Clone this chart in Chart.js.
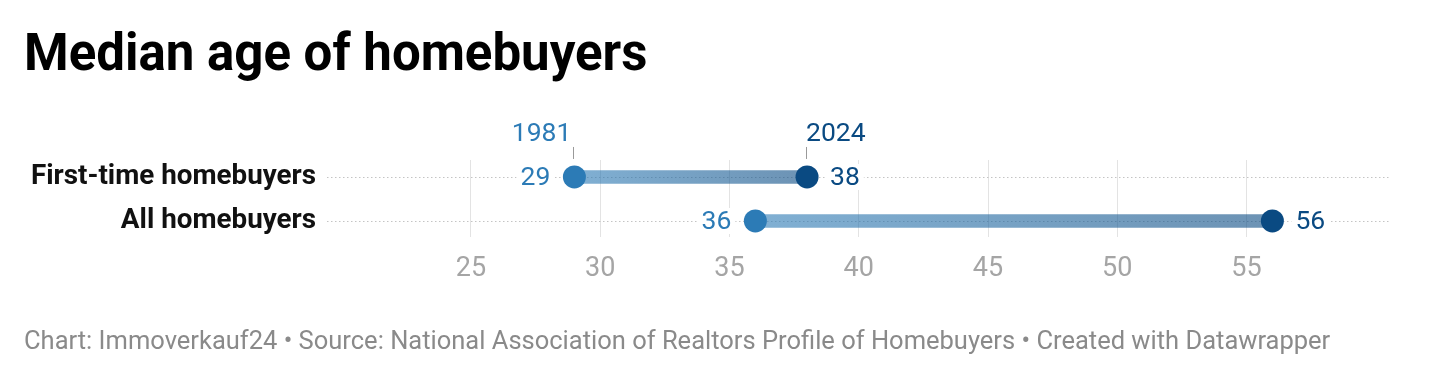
<!DOCTYPE html>
<html>
<head>
<meta charset="utf-8">
<script src="https://cdn.jsdelivr.net/npm/chart.js@4.4.1/dist/chart.umd.min.js"></script>
<style>
  html, body { margin: 0; padding: 0; background: #fff; }
  body { width: 1440px; height: 379px; position: relative; overflow: hidden; font-family: Roboto, "Noto Sans", sans-serif; }
  #title { position: absolute; left: 24px; top: 27px; font-size: 51px; font-weight: 700; color: #000; line-height: 1; white-space: nowrap; }
  #footer { position: absolute; left: 24px; top: 327.5px; font-size: 25.5px; color: #8a8a8a; line-height: 1; white-space: nowrap; }
  #wrap { position: absolute; left: 0; top: 0; width: 1440px; height: 379px; }
</style>
</head>
<body>
<div id="title">Median age of homebuyers</div>
<div id="wrap"><canvas id="c" width="1440" height="379"></canvas></div>
<div id="footer">Chart: Immoverkauf24 • Source: National Association of Realtors Profile of Homebuyers • Created with Datawrapper</div>
<script>
const categories = ['First-time homebuyers', 'All homebuyers'];
const seriesNames = ['1981', '2024'];
const values1981 = [29, 36];
const values2024 = [38, 56];
const xTicks = [25, 30, 35, 40, 45, 50, 55];

const colorStart = '#2c7bb6';
const colorEnd = '#0a4a82';

const rangeData = categories.map((c, i) => ({ y: i, x: [values1981[i], values2024[i]] }));
const startData = categories.map((c, i) => ({ y: i, x: values1981[i] }));
const endData = categories.map((c, i) => ({ y: i, x: values2024[i] }));

const rowLines = {
  id: 'rowLines',
  beforeDatasetsDraw(chart) {
    const { ctx, chartArea, scales } = chart;
    ctx.save();
    ctx.strokeStyle = '#c4c4c4';
    ctx.lineWidth = 1;
    ctx.setLineDash([1.5, 2.5]);
    categories.forEach((c, i) => {
      const y = Math.round(scales.y.getPixelForValue(i)) + 0.5;
      ctx.beginPath();
      ctx.moveTo(chartArea.left, y);
      ctx.lineTo(chartArea.right, y);
      ctx.stroke();
    });
    ctx.restore();
  }
};

const labelsPlugin = {
  id: 'valueLabels',
  afterDatasetsDraw(chart) {
    const { ctx } = chart;
    const mStart = chart.getDatasetMeta(1);
    const mEnd = chart.getDatasetMeta(2);
    ctx.save();
    ctx.font = '400 26.5px Roboto';
    ctx.textBaseline = 'middle';
    const drawLabel = (text, x, y, align, color) => {
      const w = ctx.measureText(text).width;
      const left = align === 'right' ? x - w : x;
      ctx.fillStyle = '#fff';
      ctx.fillRect(left - 4, y - 13, w + 8, 26);
      ctx.fillStyle = color;
      ctx.textAlign = align;
      ctx.fillText(text, x, y + 1);
    };
    mStart.data.forEach((p, i) => drawLabel(String(values1981[i]), p.x - 24, p.y, 'right', colorStart));
    mEnd.data.forEach((p, i) => drawLabel(String(values2024[i]), p.x + 23, p.y, 'left', colorEnd));

    // series annotations above first row
    const p0 = mStart.data[0], p1 = mEnd.data[0];
    ctx.strokeStyle = '#9a9a9a';
    ctx.lineWidth = 1;
    [[p0, 'right', colorStart, seriesNames[0], -3], [p1, 'left', colorEnd, seriesNames[1], -1]].forEach(([p, align, color, text, dx]) => {
      const x = Math.round(p.x) - 0.5;
      ctx.beginPath();
      ctx.moveTo(x, p.y - 30);
      ctx.lineTo(x, p.y - 18);
      ctx.stroke();
      ctx.fillStyle = color;
      ctx.textAlign = align;
      ctx.fillText(text, p.x + dx, p.y - 43);
    });
    ctx.restore();
  }
};

new Chart(document.getElementById('c'), {
  type: 'bar',
  data: {
    datasets: [
      {
        type: 'bar',
        data: rangeData,
        indexAxis: 'y',
        barThickness: 13,
        borderWidth: 0,
        borderSkipped: false,
        order: 3,
        backgroundColor: (c) => {
          const chart = c.chart;
          if (!chart.chartArea || !c.raw) return 'rgba(44,123,182,0.6)';
          const xs = chart.scales.x;
          const g = chart.ctx.createLinearGradient(xs.getPixelForValue(c.raw.x[0]), 0, xs.getPixelForValue(c.raw.x[1]), 0);
          g.addColorStop(0, 'rgba(44,123,182,0.6)');
          g.addColorStop(1, 'rgba(10,74,130,0.6)');
          return g;
        }
      },
      {
        type: 'line',
        label: seriesNames[0],
        data: startData,
        indexAxis: 'y',
        showLine: false,
        pointRadius: 11.5,
        pointBorderWidth: 0,
        pointBackgroundColor: colorStart,
        order: 1
      },
      {
        type: 'line',
        label: seriesNames[1],
        data: endData,
        indexAxis: 'y',
        showLine: false,
        pointRadius: 11.5,
        pointBorderWidth: 0,
        pointBackgroundColor: colorEnd,
        order: 2
      }
    ]
  },
  options: {
    indexAxis: 'y',
    responsive: false,
    animation: false,
    events: [],
    layout: { padding: { left: 0, right: 50, top: 160, bottom: 82 } },
    plugins: { legend: { display: false }, tooltip: { enabled: false }, title: { display: false } },
    scales: {
      x: {
        type: 'linear',
        offset: false,
        min: 19.43,
        max: 60.55,
        afterBuildTicks: (s) => { s.ticks = xTicks.map(v => ({ value: v })); },
        afterFit: (s) => { s.height = 60; },
        grid: { color: '#e3e3e3', lineWidth: 1, drawTicks: false, offset: false },
        border: { display: false },
        ticks: { color: '#a5a5a5', font: { family: 'Roboto', size: 27 }, padding: 16, maxRotation: 0, autoSkip: false }
      },
      y: {
        type: 'linear',
        offset: false,
        reverse: true,
        min: -0.386,
        max: 1.364,
        afterBuildTicks: (s) => { s.ticks = categories.map((c, i) => ({ value: i })); },
        afterFit: (s) => { s.width = 327; },
        grid: { display: false, drawTicks: false, offset: false },
        border: { display: false },
        ticks: {
          color: '#111',
          font: { family: 'Roboto', size: 27.8, weight: '700' },
          padding: 11,
          autoSkip: false,
          callback: (v) => categories[v] ?? ''
        }
      }
    }
  },
  plugins: [rowLines, labelsPlugin]
});
</script>
</body>
</html>
